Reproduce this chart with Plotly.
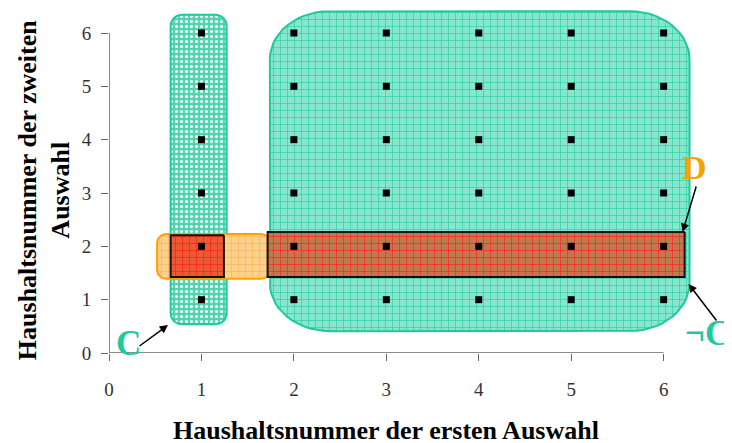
import math
import plotly.graph_objects as go

# ---- data ----
households_first = [1, 2, 3, 4, 5, 6]
households_second = [1, 2, 3, 4, 5, 6]
tick_values = [0, 1, 2, 3, 4, 5, 6]
tick_labels = ["0", "1", "2", "3", "4", "5", "6"]
x_title = "Haushaltsnummer der ersten Auswahl"
y_title = "Haushaltsnummer der zweiten<br>Auswahl"

# ---- layout constants (page body adds an 8px offset) ----
W, H = 724, 435
ML, MR, MT, MB = 101, 36, 1, 90
X_RANGE = [0, 6.35]
Y_RANGE = [0, 6.45]
SX = (W - ML - MR) / (X_RANGE[1] - X_RANGE[0])
SY = (H - MT - MB) / (Y_RANGE[1] - Y_RANGE[0])

SERIF = "Liberation Serif"
TEAL = "#1fc999"
ORANGE = "#ffa000"


def rounded_rect(x0, x1, y0, y1, rpx_x, rpx_y=None, n=14):
    if rpx_y is None:
        rpx_y = rpx_x
    rx, ry = rpx_x / SX, rpx_y / SY
    xs, ys = [], []
    corners = [
        (x1 - rx, y1 - ry, 0, 90),
        (x0 + rx, y1 - ry, 90, 180),
        (x0 + rx, y0 + ry, 180, 270),
        (x1 - rx, y0 + ry, 270, 360),
    ]
    for cx, cy, a0, a1 in corners:
        for i in range(n + 1):
            a = math.radians(a0 + (a1 - a0) * i / n)
            xs.append(cx + rx * math.cos(a))
            ys.append(cy + ry * math.sin(a))
    xs.append(xs[0])
    ys.append(ys[0])
    return xs, ys


def to_paper_x(v):
    return (v - X_RANGE[0]) / (X_RANGE[1] - X_RANGE[0])


fig = go.Figure()


def add_region(xs, ys, line_color, line_width, bg, fg, shape, size, solidity):
    fig.add_trace(go.Scatter(
        x=xs, y=ys, mode="lines", fill="toself",
        line=dict(color=line_color, width=line_width),
        fillcolor=bg,
        fillpattern=dict(shape=shape, bgcolor=bg, fgcolor=fg, size=size,
                         solidity=solidity, fillmode="replace"),
        hoverinfo="skip", showlegend=False,
    ))


# big teal region (not C)
bx, by = rounded_rect(1.74, 6.28, 0.41, 6.41, 60, 48)
add_region(bx, by, TEAL, 2, "#86e6d0", "#22c898", "+", 7, 0.15)
# narrow teal region (C)
nx, ny = rounded_rect(0.667, 1.273, 0.54, 6.34, 11)
add_region(nx, ny, TEAL, 2, "#4fd4b0", "#ffffff", ".", 5, 0.3)
# orange region (D)
ox, oy = rounded_rect(0.52, 1.74, 1.39, 2.23, 9)
add_region(ox, oy, ORANGE, 2, "#ffd08c", "#f5b050", "+", 7, 0.15)
# red rectangles
sx_, sy_ = rounded_rect(0.667, 1.243, 1.425, 2.21, 0.01)
add_region(sx_, sy_, "#111111", 2, "#ec5a34", "#ff1a1a", "+", 7, 0.18)
rx_, ry_ = rounded_rect(1.716, 6.227, 1.425, 2.27, 0.01)
add_region(rx_, ry_, "#111111", 2, "#c3774f", "#ff2020", "+", 7, 0.18)

# points
px, py = [], []
for a in households_first:
    for b in households_second:
        px.append(a)
        py.append(b)
fig.add_trace(go.Scatter(
    x=px, y=py, mode="markers",
    marker=dict(symbol="square", size=7, color="black"),
    hoverinfo="skip", showlegend=False,
))

axis_common = dict(
    showgrid=False, zeroline=False, showline=False,
    ticks="outside", ticklen=7, tickwidth=1.2, tickcolor="#666666",
    tickvals=tick_values, ticktext=tick_labels,
    tickfont=dict(family=SERIF, size=19, color="#333333"),
)

fig.update_layout(
    width=W, height=H,
    margin=dict(l=ML, r=MR, t=MT, b=MB),
    plot_bgcolor="white", paper_bgcolor="white",
    xaxis=dict(range=X_RANGE, ticklabelstandoff=12, **axis_common),
    yaxis=dict(range=Y_RANGE, ticklabelstandoff=6, **axis_common),
    shapes=[
        dict(type="line", xref="x", yref="y", x0=0, x1=6, y0=0, y1=0,
             line=dict(color="#666666", width=1.5), layer="above"),
        dict(type="line", xref="x", yref="y", x0=0, x1=0, y0=0, y1=6,
             line=dict(color="#666666", width=1.5), layer="above"),
    ],
)

arrow_style = dict(showarrow=True, arrowhead=2, arrowsize=1.1, arrowwidth=1.5,
                   arrowcolor="black", standoff=0, text="",
                   xref="x", yref="y", axref="x", ayref="y")

annotations = [
    # axis titles
    dict(text=x_title, xref="paper", yref="paper", x=to_paper_x(3.0), y=-0.225,
         xanchor="center", yanchor="middle", showarrow=False,
         font=dict(family=SERIF, size=26, color="black", weight="bold")),
    dict(text=y_title, xref="paper", yref="y", x=-0.111, y=3.05,
         xanchor="center", yanchor="middle", showarrow=False, textangle=-90,
         font=dict(family=SERIF, size=26, color="black", weight="bold")),
    # labels
    dict(text="C", xref="x", yref="y", x=0.216, y=0.17, showarrow=False,
         font=dict(family=SERIF, size=35, color=TEAL, weight="bold")),
    dict(text="D", xref="x", yref="y", x=6.335, y=3.47, showarrow=False,
         font=dict(family=SERIF, size=34, color="#f5a300", weight="bold")),
    dict(text="\u00acC", xref="paper", yref="y", x=to_paper_x(6.47), y=0.36,
         showarrow=False, xanchor="center",
         font=dict(family=SERIF, size=35, color=TEAL, weight="bold")),
    # arrows
    dict(x=0.638, y=0.525, ax=0.314, ay=0.11, **arrow_style),
    dict(x=6.205, y=2.27, ax=6.357, ay=3.15, **arrow_style),
    dict(x=6.27, y=1.294, ax=6.584, ay=0.581, **arrow_style),
]
fig.update_layout(annotations=annotations)

fig.write_html("out.html")
